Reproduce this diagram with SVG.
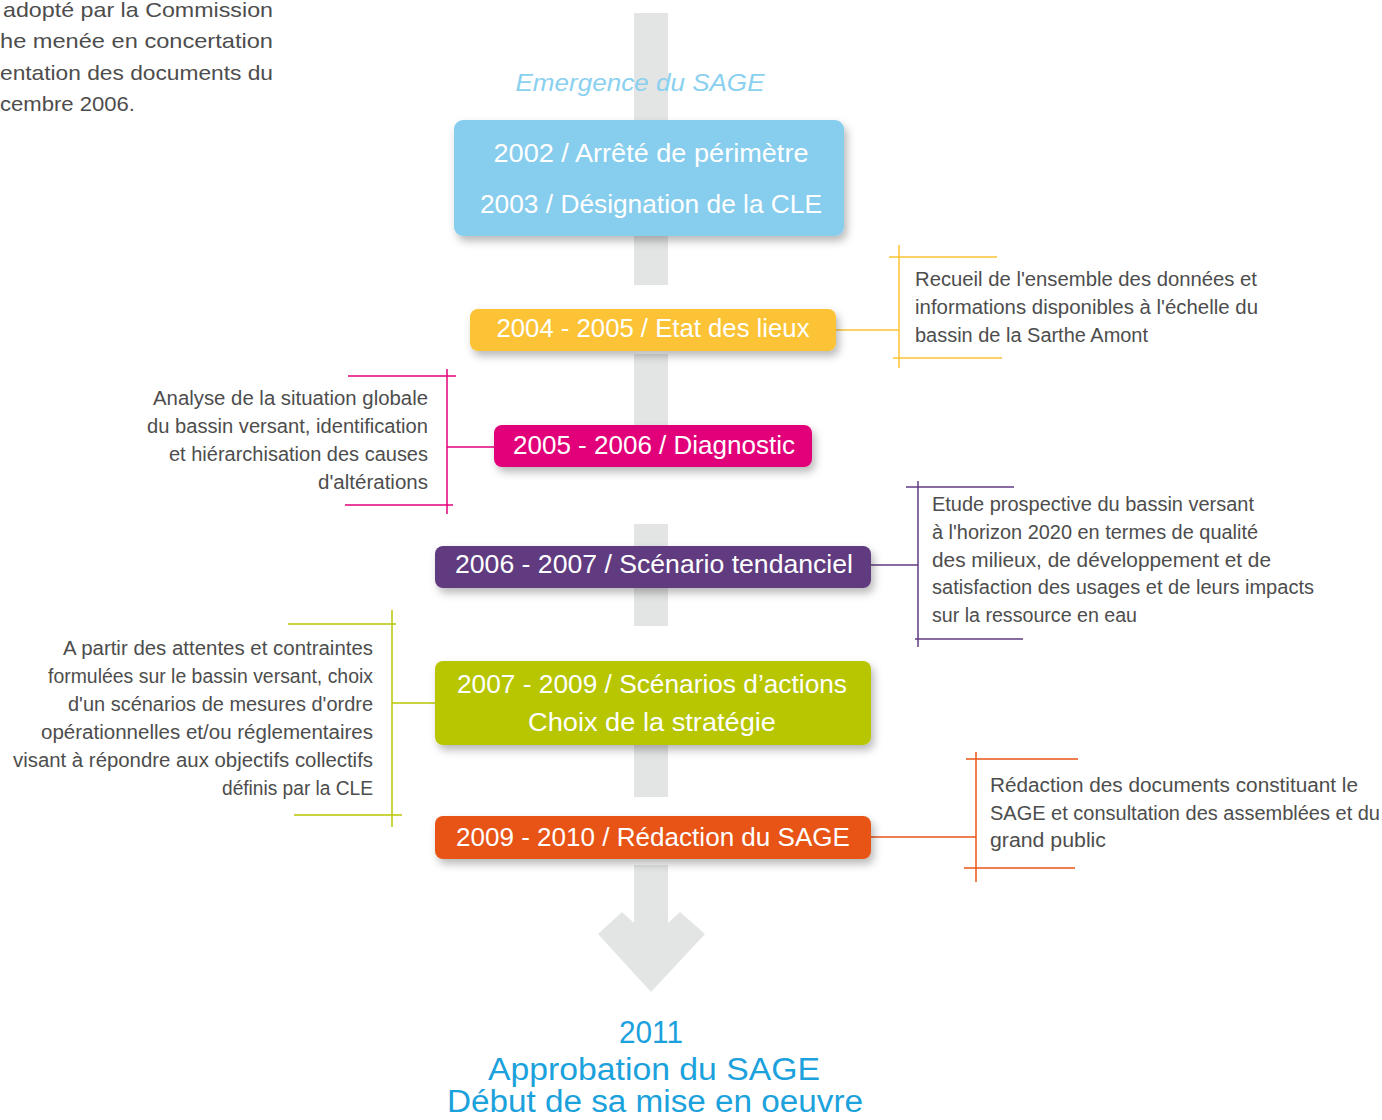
<svg xmlns="http://www.w3.org/2000/svg" width="1382" height="1120" viewBox="0 0 1382 1120">
<defs>
<filter id="sh" x="-10%" y="-30%" width="125%" height="170%">
<feDropShadow dx="3" dy="5" stdDeviation="4" flood-color="#000" flood-opacity="0.28"/>
</filter>
</defs>
<style>
text{font-family:"Liberation Sans",Arial,sans-serif}
.box{font-size:25px;fill:#fff;text-anchor:middle}
.desc{font-size:19.5px;fill:#4d4d4d}
.r{text-anchor:end}
.sp{fill:#e3e5e4}
.ln{fill:none;stroke-width:1.5}
</style>
<rect width="1382" height="1120" fill="#fff"/>

<g id="intro-text" class="desc" style="font-size:21px">
<text x="3" y="17" textLength="270" lengthAdjust="spacingAndGlyphs">adopté par la Commission</text>
<text x="0" y="48" textLength="273" lengthAdjust="spacingAndGlyphs">he menée en concertation</text>
<text x="0" y="80" textLength="273" lengthAdjust="spacingAndGlyphs">entation des documents du</text>
<text x="0" y="111" textLength="135" lengthAdjust="spacingAndGlyphs">cembre 2006.</text>
</g>

<g id="spine">
<rect class="sp" x="634" y="13" width="34" height="272"/>
<rect class="sp" x="634" y="354" width="34" height="72"/>
<rect class="sp" x="634" y="524" width="34" height="102"/>
<rect class="sp" x="634" y="744" width="34" height="53"/>
<polygon class="sp" points="634,865 668,865 668,923 680,912 705,934 651,992 598,934 622,912 634,923"/>
</g>

<g id="emergence">
<text x="640" y="91" style="font-size:24px;font-style:italic;fill:#8ad0ef;text-anchor:middle" textLength="249" lengthAdjust="spacingAndGlyphs">Emergence du SAGE</text>
</g>

<g id="connectors">
<line class="ln" x1="836" y1="330" x2="899" y2="330" stroke="#fbc334"/>
<line class="ln" x1="447" y1="447" x2="494" y2="447" stroke="#e2007a"/>
<line class="ln" x1="871" y1="565" x2="918" y2="565" stroke="#613a80"/>
<line class="ln" x1="392" y1="703" x2="435" y2="703" stroke="#b7c600"/>
<line class="ln" x1="871" y1="837" x2="976" y2="837" stroke="#e85316"/>
</g>

<g id="n2002">
<rect x="454" y="120" width="390" height="116" rx="9" fill="#87cded" filter="url(#sh)"/>
<text class="box" x="651" y="162" textLength="315" lengthAdjust="spacingAndGlyphs">2002 / Arrêté de périmètre</text>
<text class="box" x="651" y="213" textLength="342" lengthAdjust="spacingAndGlyphs">2003 / Désignation de la CLE</text>
</g>

<g id="n2004">
<rect x="470" y="309" width="366" height="42" rx="8" fill="#fbc334" filter="url(#sh)"/>
<text class="box" x="653" y="337" textLength="313" lengthAdjust="spacingAndGlyphs">2004 - 2005 / Etat des lieux</text>
</g>
<g id="d2004" class="desc">
<line class="ln" x1="899" y1="245" x2="899" y2="368" stroke="#fbc334"/>
<line class="ln" x1="889" y1="257" x2="997" y2="257" stroke="#fbc334"/>
<line class="ln" x1="893" y1="358" x2="1002" y2="358" stroke="#fbc334"/>
<text x="915" y="286" textLength="342" lengthAdjust="spacingAndGlyphs">Recueil de l'ensemble des données et</text>
<text x="915" y="314" textLength="343" lengthAdjust="spacingAndGlyphs">informations disponibles à l'échelle du</text>
<text x="915" y="342" textLength="233" lengthAdjust="spacingAndGlyphs">bassin de la Sarthe Amont</text>
</g>

<g id="n2005">
<rect x="494" y="425" width="318" height="42" rx="8" fill="#e2007a" filter="url(#sh)"/>
<text class="box" x="654" y="454" textLength="282" lengthAdjust="spacingAndGlyphs">2005 - 2006 / Diagnostic</text>
</g>
<g id="d2005" class="desc r">
<line class="ln" x1="447" y1="369" x2="447" y2="514" stroke="#e2007a"/>
<line class="ln" x1="348" y1="376" x2="456" y2="376" stroke="#e2007a"/>
<line class="ln" x1="345" y1="505" x2="453" y2="505" stroke="#e2007a"/>
<text x="428" y="405" textLength="275" lengthAdjust="spacingAndGlyphs">Analyse de la situation globale</text>
<text x="428" y="433" textLength="281" lengthAdjust="spacingAndGlyphs">du bassin versant, identification</text>
<text x="428" y="461" textLength="259" lengthAdjust="spacingAndGlyphs">et hiérarchisation des causes</text>
<text x="428" y="489" textLength="110" lengthAdjust="spacingAndGlyphs">d'altérations</text>
</g>

<g id="n2006">
<rect x="435" y="546" width="436" height="42" rx="8" fill="#613a80" filter="url(#sh)"/>
<text class="box" x="654" y="573" textLength="398" lengthAdjust="spacingAndGlyphs">2006 - 2007 / Scénario tendanciel</text>
</g>
<g id="d2006" class="desc">
<line class="ln" x1="918" y1="481" x2="918" y2="647" stroke="#613a80"/>
<line class="ln" x1="906" y1="487" x2="1014" y2="487" stroke="#613a80"/>
<line class="ln" x1="915" y1="639" x2="1023" y2="639" stroke="#613a80"/>
<text x="932" y="511" textLength="322" lengthAdjust="spacingAndGlyphs">Etude prospective du bassin versant</text>
<text x="932" y="539" textLength="326" lengthAdjust="spacingAndGlyphs">à l'horizon 2020 en termes de qualité</text>
<text x="932" y="567" textLength="339" lengthAdjust="spacingAndGlyphs">des milieux, de développement et de</text>
<text x="932" y="594" textLength="382" lengthAdjust="spacingAndGlyphs">satisfaction des usages et de leurs impacts</text>
<text x="932" y="622" textLength="205" lengthAdjust="spacingAndGlyphs">sur la ressource en eau</text>
</g>

<g id="n2007">
<rect x="435" y="661" width="436" height="84" rx="8" fill="#b7c600" filter="url(#sh)"/>
<text class="box" x="652" y="693" textLength="390" lengthAdjust="spacingAndGlyphs">2007 - 2009 / Scénarios d’actions</text>
<text class="box" x="652" y="731" textLength="248" lengthAdjust="spacingAndGlyphs">Choix de la stratégie</text>
</g>
<g id="d2007" class="desc r">
<line class="ln" x1="392" y1="610" x2="392" y2="827" stroke="#b7c600"/>
<line class="ln" x1="288" y1="624" x2="396" y2="624" stroke="#b7c600"/>
<line class="ln" x1="294" y1="815" x2="402" y2="815" stroke="#b7c600"/>
<text x="373" y="655" textLength="310" lengthAdjust="spacingAndGlyphs">A partir des attentes et contraintes</text>
<text x="373" y="683" textLength="325" lengthAdjust="spacingAndGlyphs">formulées sur le bassin versant, choix</text>
<text x="373" y="711" textLength="305" lengthAdjust="spacingAndGlyphs">d'un scénarios de mesures d'ordre</text>
<text x="373" y="739" textLength="332" lengthAdjust="spacingAndGlyphs">opérationnelles et/ou réglementaires</text>
<text x="373" y="767" textLength="360" lengthAdjust="spacingAndGlyphs">visant à répondre aux objectifs collectifs</text>
<text x="373" y="795" textLength="151" lengthAdjust="spacingAndGlyphs">définis par la CLE</text>
</g>

<g id="n2009">
<rect x="435" y="816" width="436" height="43" rx="8" fill="#e85316" filter="url(#sh)"/>
<text class="box" x="653" y="846" textLength="394" lengthAdjust="spacingAndGlyphs">2009 - 2010 / Rédaction du SAGE</text>
</g>
<g id="d2009" class="desc">
<line class="ln" x1="976" y1="752" x2="976" y2="882" stroke="#e85316"/>
<line class="ln" x1="966" y1="759" x2="1078" y2="759" stroke="#e85316"/>
<line class="ln" x1="964" y1="868" x2="1075" y2="868" stroke="#e85316"/>
<text x="990" y="792" textLength="368" lengthAdjust="spacingAndGlyphs">Rédaction des documents constituant le</text>
<text x="990" y="820" textLength="390" lengthAdjust="spacingAndGlyphs">SAGE et consultation des assemblées et du</text>
<text x="990" y="847" textLength="116" lengthAdjust="spacingAndGlyphs">grand public</text>
</g>

<g id="n2011" style="font-size:31px;fill:#1ba1dc;text-anchor:middle">
<text x="651" y="1043" textLength="64" lengthAdjust="spacingAndGlyphs">2011</text>
<text x="654" y="1080" textLength="332" lengthAdjust="spacingAndGlyphs">Approbation du SAGE</text>
<text x="655" y="1112" textLength="416" lengthAdjust="spacingAndGlyphs">Début de sa mise en oeuvre</text>
</g>
</svg>
